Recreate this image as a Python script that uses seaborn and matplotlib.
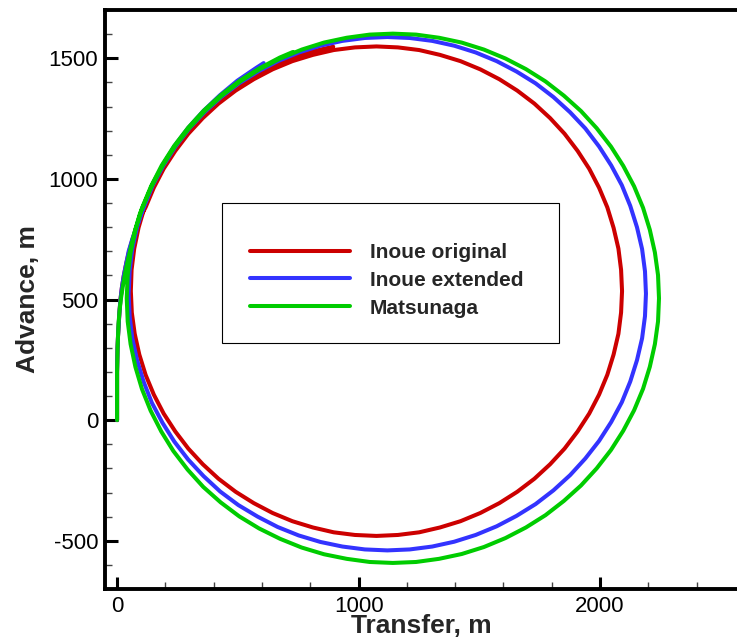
import matplotlib
matplotlib.use("Agg")
import numpy as np
import pandas as pd
import matplotlib.pyplot as plt
import seaborn as sns
from matplotlib.ticker import MultipleLocator
from matplotlib.lines import Line2D
from matplotlib.patches import Rectangle

models = ["Inoue original", "Inoue extended", "Matsunaga"]

# Inoue original (red) trajectory
red_x = [0, 0, 0, 1, 2, 4, 7, 10, 14, 20, 28, 38, 50, 64, 80, 98, 118,
         152, 193, 241, 295, 355, 420, 491, 566, 644, 726, 811, 897, 985, 1074,
         1163, 1251, 1337, 1422, 1504, 1583, 1657, 1728, 1793, 1853, 1907, 1955, 1996, 2030, 2056, 2076, 2087, 2091,
         2087, 2076, 2056, 2030, 1996, 1955, 1907, 1853, 1793, 1728, 1657, 1583, 1504, 1422, 1337, 1251, 1163, 1074,
         985, 897, 811, 726, 644, 566, 491, 420, 355, 295, 241, 193, 152, 118, 92, 73, 61, 57,
         60, 71, 89, 114, 147, 188, 235, 289, 349, 414, 485, 560, 638, 721, 807, 895]
red_y = [0, 100, 200, 250, 300, 350, 400, 450, 500, 550, 600, 650, 700, 750, 800, 845, 882,
         963, 1042, 1116, 1187, 1252, 1312, 1366, 1413, 1454, 1488, 1514, 1534, 1545, 1549,
         1545, 1534, 1514, 1488, 1454, 1413, 1366, 1312, 1252, 1187, 1116, 1042, 963, 882, 797, 711, 623, 535,
         446, 358, 272, 188, 106, 27, -47, -118, -183, -243, -297, -344, -385, -419, -445, -465, -476, -480,
         -476, -465, -445, -419, -385, -344, -297, -243, -183, -118, -47, 27, 106, 188, 272, 358, 446, 535,
         623, 711, 798, 883, 965, 1045, 1120, 1192, 1258, 1320, 1375, 1423, 1466, 1501, 1528, 1548]

# Inoue extended (blue)
blue_x = [0, 0, 0, 1, 2, 4, 7, 10, 14, 20, 28, 38, 48, 63, 80, 96, 113,
          148, 192, 242, 299, 362, 431, 505, 584, 666, 753, 842, 933, 1026, 1119,
          1212, 1305, 1396, 1485, 1572, 1654, 1733, 1807, 1876, 1939, 1996, 2046, 2090, 2125, 2153, 2174, 2186, 2190,
          2186, 2174, 2153, 2125, 2090, 2046, 1996, 1939, 1876, 1807, 1733, 1654, 1572, 1485, 1396, 1305, 1212, 1119,
          1026, 933, 842, 752, 665, 582, 502, 427, 358, 294, 237, 188, 144, 110, 83, 63, 52, 48,
          52, 63, 83, 111, 145, 189, 238, 295, 357, 425, 498, 576, 607]
blue_y = [0, 100, 200, 250, 300, 350, 400, 450, 500, 550, 600, 650, 700, 750, 800, 845, 888,
          974, 1056, 1134, 1209, 1276, 1339, 1396, 1445, 1488, 1524, 1552, 1572, 1584, 1588,
          1584, 1572, 1552, 1524, 1488, 1445, 1396, 1339, 1276, 1209, 1134, 1056, 974, 888, 799, 709, 617, 524,
          431, 339, 249, 160, 74, -8, -86, -159, -228, -291, -348, -397, -440, -476, -504, -524, -536, -540,
          -536, -524, -505, -478, -443, -400, -352, -296, -232, -163, -89, -11, 72, 159, 248, 339, 431, 524,
          617, 709, 800, 889, 975, 1058, 1137, 1212, 1281, 1346, 1407, 1460, 1480]

# Matsunaga (green)
green_x = [0, 0, 0, 1, 2, 4, 6, 10, 15, 23, 33, 44, 57, 74, 95,
           143, 188, 239, 298, 363, 434, 510, 591, 676, 765, 857, 951, 1046, 1142,
           1238, 1333, 1427, 1519, 1608, 1693, 1774, 1850, 1921, 1986, 2045, 2096, 2141, 2178, 2206, 2227, 2240, 2244,
           2240, 2227, 2206, 2178, 2141, 2096, 2045, 1986, 1921, 1850, 1774, 1693, 1608, 1519, 1427, 1333, 1238, 1142,
           1046, 951, 857, 764, 675, 588, 506, 429, 357, 292, 233, 183, 139, 103, 76, 56, 44, 40,
           44, 56, 76, 104, 141, 185, 236, 295, 360, 431, 508, 589, 674, 728]
green_y = [0, 100, 200, 250, 300, 350, 400, 450, 497, 550, 608, 660, 717, 785, 857,
           969, 1054, 1134, 1210, 1281, 1345, 1404, 1455, 1499, 1536, 1565, 1585, 1598, 1602,
           1598, 1585, 1565, 1536, 1499, 1455, 1404, 1345, 1281, 1210, 1134, 1054, 969, 880, 789, 695, 601, 505,
           409, 315, 221, 130, 41, -44, -124, -200, -271, -335, -394, -445, -489, -526, -555, -575, -588, -592,
           -588, -575, -556, -528, -492, -449, -399, -341, -277, -205, -128, -47, 39, 129, 220, 315, 409, 505,
           601, 695, 789, 881, 970, 1056, 1136, 1213, 1284, 1348, 1407, 1458, 1503, 1526]

x_major = [0, 1000, 2000]
y_major = [-500, 0, 500, 1000, 1500]
colors = {"Inoue original": "#CC0000", "Inoue extended": "#3333FF", "Matsunaga": "#00CC00"}

frames = []
for name, xs, ys in zip(models, [red_x, blue_x, green_x], [red_y, blue_y, green_y]):
    frames.append(pd.DataFrame({"x": xs, "y": ys, "model": name}))
df = pd.concat(frames, ignore_index=True)

sns.set_style("ticks")
plt.rcParams['font.family'] = ['Liberation Sans', 'DejaVu Sans']
plt.rcParams['axes.unicode_minus'] = False

fig = plt.figure(figsize=(7.37, 6.43), dpi=100)
ax = fig.add_axes([105/737, 54/643, 632/737, 579/643])

sns.lineplot(data=df, x="x", y="y", hue="model", hue_order=models, palette=colors,
             sort=False, estimator=None, units="model", lw=2.9, legend=False, ax=ax)

ax.set_xlim(-50, 2567)
ax.set_ylim(-700, 1700)
ax.set_xticks(x_major)
ax.set_yticks(y_major)
ax.xaxis.set_minor_locator(MultipleLocator(200))
ax.yaxis.set_minor_locator(MultipleLocator(100))

ax.spines['right'].set_visible(False)
for s in ['left', 'bottom', 'top']:
    ax.spines[s].set_linewidth(2.8)
    ax.spines[s].set_color('black')

ax.tick_params(which='major', direction='in', length=9, width=2.2, labelsize=16, pad=5,
               colors='black', top=False, right=False)
ax.tick_params(which='minor', direction='in', length=5, width=1.0, color='#444444',
               top=False, right=False)

ax.set_xlabel("Transfer, m", fontsize=19, fontweight='bold', labelpad=-2)
ax.set_ylabel("Advance, m", fontsize=19, fontweight='bold', labelpad=6)

handles = [Line2D([], [], color=colors[m], lw=2.9) for m in models]
ax.legend(handles, models, loc='upper left', bbox_to_anchor=(250/737, 1 - 243/643),
          bbox_transform=fig.transFigure, frameon=False, borderpad=0, borderaxespad=0,
          handlelength=4.8, handletextpad=0.96, labelspacing=0.42,
          prop={'weight': 'bold', 'size': 15})
fig.add_artist(Rectangle((222/737, 1 - 343/643), 337/737, 140/643, transform=fig.transFigure,
                         fill=False, edgecolor='black', linewidth=0.8))

fig.savefig("out.png", dpi=100)
